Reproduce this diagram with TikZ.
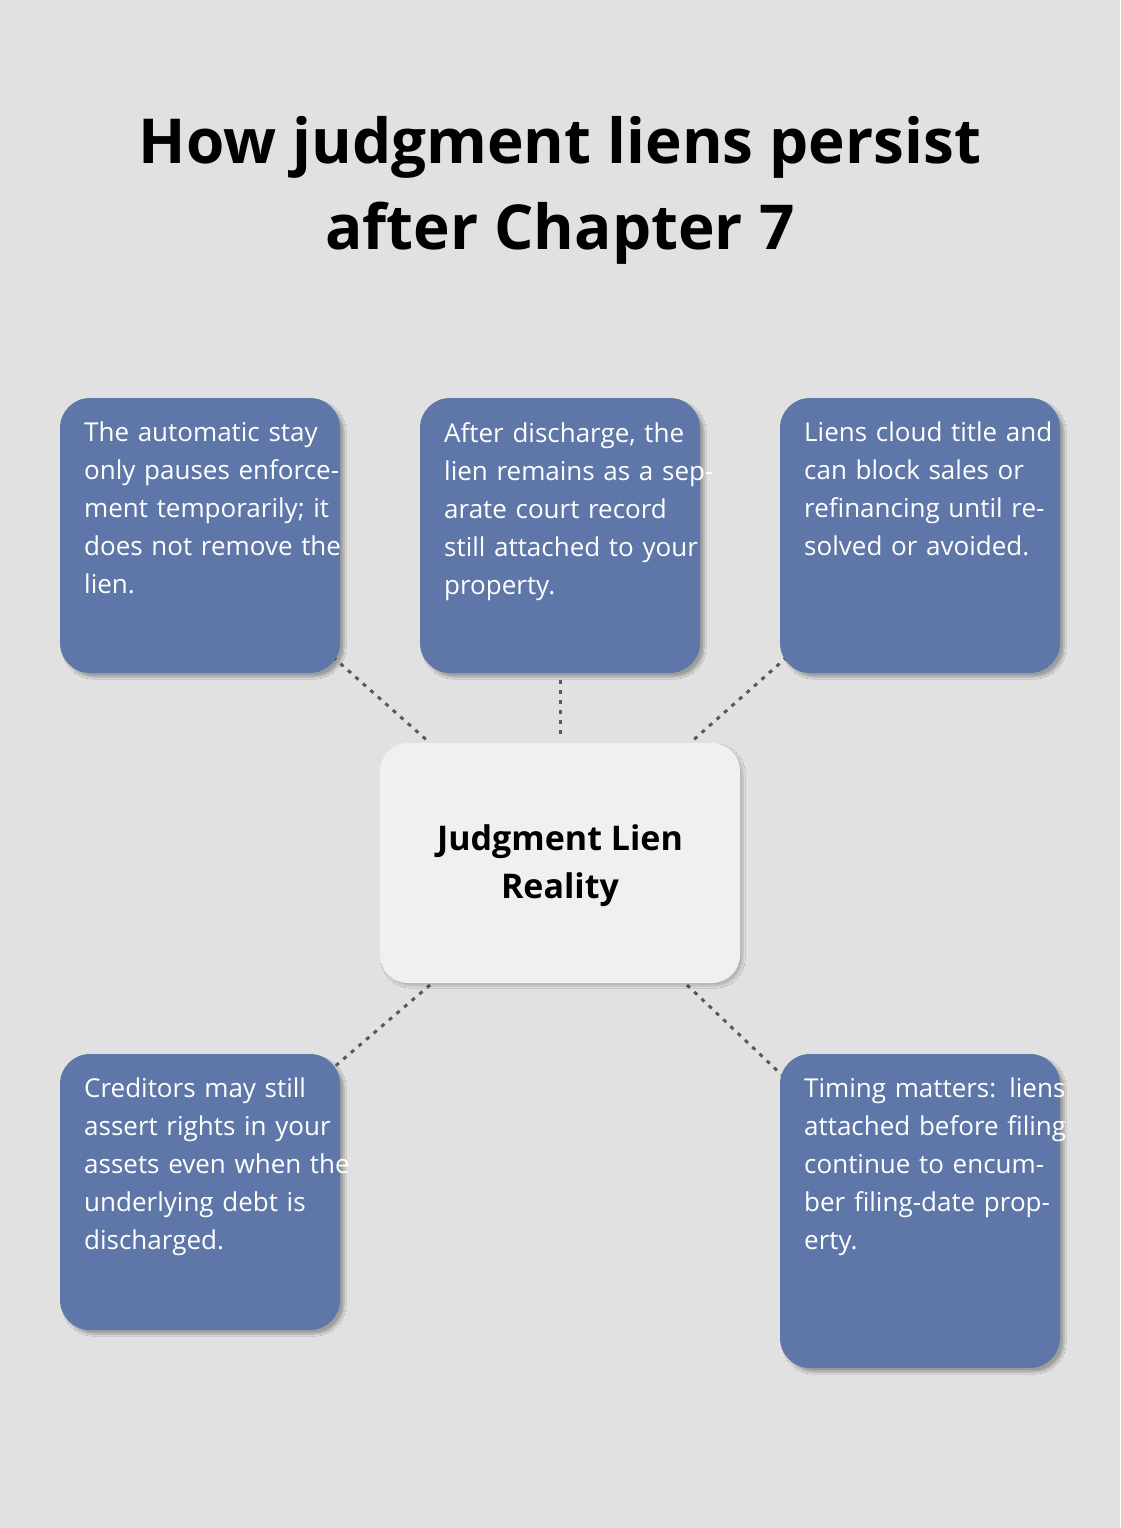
\documentclass[tikz,border=0pt]{standalone}
\usepackage{fontspec}
\setmainfont{Open Sans}
\usetikzlibrary{shadows.blur}
\definecolor{bg}{HTML}{E0E1E0}
\definecolor{bx}{HTML}{5E77A8}
\definecolor{cb}{HTML}{EFF0F2}
\begin{document}
\begin{tikzpicture}[x=1pt,y=-1pt,
 box/.style={fill=bx,rounded corners=30pt,blur shadow={shadow blur steps=8,shadow xshift=4pt,shadow yshift=-4pt,shadow opacity=30}},
 txt/.style={anchor=north west,text width=270pt,align=left,text=white,inner sep=0pt,font=\fontsize{26}{38}\selectfont},
 con/.style={draw=black!65,line width=3pt,dash pattern=on 4pt off 6pt}]
\fill[bg] (0,0) rectangle (1120,1528);
\useasboundingbox (0,0) rectangle (1120,1528);
\node[font=\bfseries\fontsize{62}{86}\selectfont,align=center] (title) at (560,190) {How judgment liens persist\\after Chapter 7};
\coordinate (a1) at (333,657); \coordinate (a2) at (430,743);
\coordinate (b1) at (560,680); \coordinate (b2) at (560,737);
\coordinate (c1) at (787,657); \coordinate (c2) at (690,743);
\coordinate (d1) at (430,985); \coordinate (d2) at (333,1068);
\coordinate (e1) at (687,985); \coordinate (e2) at (785,1078);
\foreach \p/\q in {a1/a2,b1/b2,c1/c2,d1/d2,e1/e2} \draw[con] (\p) -- (\q);
\fill[box] (60,398) rectangle (340,673);
\fill[box] (420,398) rectangle (700,673);
\fill[box] (780,398) rectangle (1060,673);
\fill[box] (60,1054) rectangle (340,1330);
\fill[box] (780,1054) rectangle (1060,1368);
\fill[cb,rounded corners=28pt,blur shadow={shadow blur steps=8,shadow xshift=3pt,shadow yshift=-3pt,shadow opacity=20}] (380,743) rectangle (740,983);
\node[font=\bfseries\fontsize{34}{48}\selectfont,align=center] (center) at (560,866) {Judgment Lien\\Reality};
\node[txt] (t1) at (84,422) {The automatic stay only pauses enforcement temporarily; it does not remove the lien.};
\node[txt] (t2) at (444,422) {After discharge, the lien remains as a separate court record still attached to your property.};
\node[txt] (t3) at (804,422) {Liens cloud title and can block sales or refinancing until resolved or avoided.};
\node[txt] (t4) at (84,1078) {Creditors may still assert rights in your assets even when the underlying debt is discharged.};
\node[txt] (t5) at (804,1078) {Timing matters: liens attached before filing continue to encumber filing-date property.};
\end{tikzpicture}
\end{document}
